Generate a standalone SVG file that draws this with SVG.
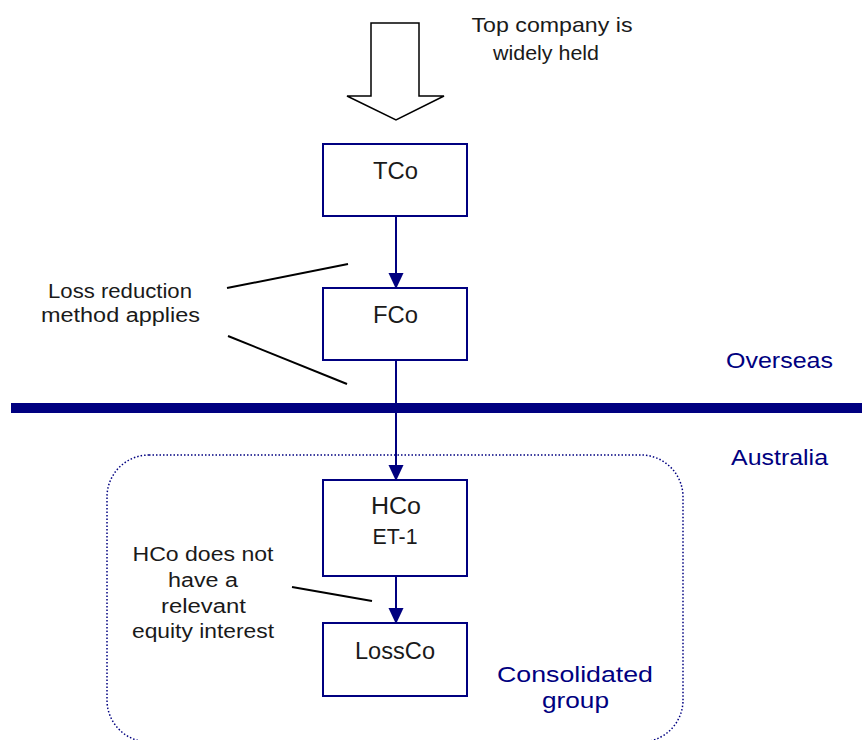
<svg xmlns="http://www.w3.org/2000/svg" width="862" height="740" viewBox="0 0 862 740">
<defs>
<style>
.box{fill:#fff;stroke:#000080;stroke-width:2}
.t{font-family:"Liberation Sans",Arial,sans-serif;fill:#1a1a1a;text-anchor:middle}
.lbl{font-family:"Liberation Sans",Arial,sans-serif;fill:#000080;text-anchor:middle;font-size:22px}
.conn{stroke:#000080;stroke-width:2;fill:none}
.note{stroke:#000;stroke-width:2;fill:none}
</style>
<marker id="ah" viewBox="0 0 15 16" refX="15" refY="7.5" markerWidth="15" markerHeight="16" markerUnits="userSpaceOnUse" orient="auto">
<path d="M0,0 L16,7.5 L0,15 Z" fill="#000080"/>
</marker>
</defs>
<rect x="0" y="0" width="862" height="740" fill="#fff"/>
<g id="region">
<rect x="107" y="455" width="576" height="287" rx="42" ry="42" fill="none" stroke="#000080" stroke-width="1.5" stroke-dasharray="1.5 2"/>
<rect x="11" y="403" width="851" height="10" fill="#000080"/>
<text class="lbl" x="779.5" y="368" textLength="107" lengthAdjust="spacingAndGlyphs">Overseas</text>
<text class="lbl" x="779.5" y="465" textLength="97" lengthAdjust="spacingAndGlyphs">Australia</text>
<text class="lbl" x="575" y="682" textLength="156" lengthAdjust="spacingAndGlyphs">Consolidated</text>
<text class="lbl" x="575.5" y="708" textLength="67" lengthAdjust="spacingAndGlyphs">group</text>
</g>
<g id="top-arrow">
<polygon points="371,23 419,23 419,96 444,96 396,120 347,96 371,96" fill="#fff" stroke="#000" stroke-width="1.5"/>
<text class="t" x="552" y="32" font-size="21" textLength="161" lengthAdjust="spacingAndGlyphs">Top company is</text>
<text class="t" x="546" y="60" font-size="21" textLength="106" lengthAdjust="spacingAndGlyphs">widely held</text>
</g>
<g id="connectors">
<line class="conn" x1="396" y1="216" x2="396" y2="288" marker-end="url(#ah)"/>
<line class="conn" x1="396" y1="360" x2="396" y2="480" marker-end="url(#ah)"/>
<line class="conn" x1="396" y1="576" x2="396" y2="623" marker-end="url(#ah)"/>
<line class="note" x1="227" y1="288" x2="348" y2="264"/>
<line class="note" x1="228" y1="336" x2="347" y2="384"/>
<line class="note" x1="292" y1="587" x2="372" y2="601"/>
</g>
<g id="tco">
<rect class="box" x="323" y="144" width="144" height="72"/>
<text class="t" x="395.5" y="179" font-size="23" textLength="45" lengthAdjust="spacingAndGlyphs">TCo</text>
</g>
<g id="fco">
<rect class="box" x="323" y="288" width="144" height="72"/>
<text class="t" x="395.5" y="323" font-size="23" textLength="45" lengthAdjust="spacingAndGlyphs">FCo</text>
</g>
<g id="hco">
<rect class="box" x="323" y="480" width="144" height="96"/>
<text class="t" x="396" y="514" font-size="23" textLength="50" lengthAdjust="spacingAndGlyphs">HCo</text>
<text class="t" x="395" y="544" font-size="22" textLength="45" lengthAdjust="spacingAndGlyphs">ET-1</text>
</g>
<g id="lossco">
<rect class="box" x="323" y="623" width="144" height="73"/>
<text class="t" x="395" y="659" font-size="23" textLength="80" lengthAdjust="spacingAndGlyphs">LossCo</text>
</g>
<g id="note-loss-reduction">
<text class="t" x="120" y="298" font-size="20" textLength="144" lengthAdjust="spacingAndGlyphs">Loss reduction</text>
<text class="t" x="120.5" y="322" font-size="20" textLength="159" lengthAdjust="spacingAndGlyphs">method applies</text>
</g>
<g id="note-hco">
<text class="t" x="203" y="561" font-size="20" textLength="141" lengthAdjust="spacingAndGlyphs">HCo does not</text>
<text class="t" x="203" y="587" font-size="20" textLength="70" lengthAdjust="spacingAndGlyphs">have a</text>
<text class="t" x="203.5" y="613" font-size="20" textLength="85" lengthAdjust="spacingAndGlyphs">relevant</text>
<text class="t" x="203" y="638" font-size="20" textLength="142" lengthAdjust="spacingAndGlyphs">equity interest</text>
</g>
</svg>
